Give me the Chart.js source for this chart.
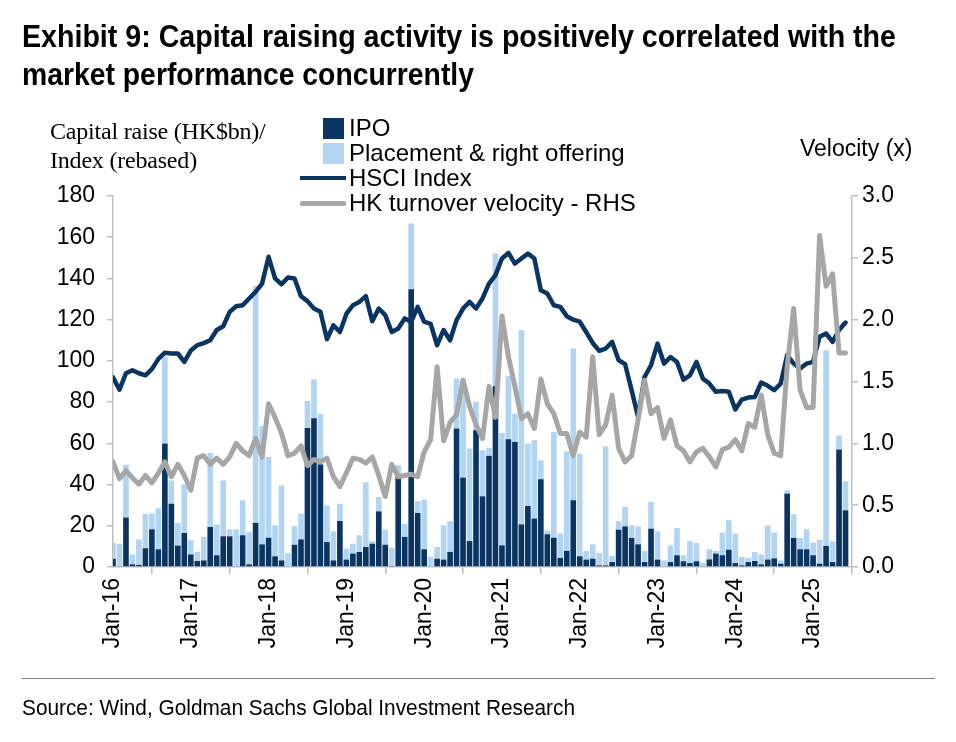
<!DOCTYPE html>
<html><head><meta charset="utf-8">
<script src="https://cdn.jsdelivr.net/npm/chart.js@4.4.1/dist/chart.umd.min.js"></script>
<style>
html,body{margin:0;padding:0;background:#fff;}
#wrap{position:relative;width:956px;height:742px;overflow:hidden;background:#fff;}
#c{position:absolute;left:0;top:0;}
.t{position:absolute;white-space:nowrap;color:#000;transform-origin:0 50%;}
.title{font-family:"Liberation Sans",Arial,sans-serif;font-weight:bold;font-size:31px;line-height:31px;}
.src{font-family:"Liberation Sans",Arial,sans-serif;font-size:22px;line-height:22px;}
.ser{font-family:"Liberation Serif","Times New Roman",serif;font-size:24px;line-height:24px;letter-spacing:-0.2px;}
.sans{font-family:"Liberation Sans",Arial,sans-serif;font-size:23px;line-height:23px;}
.lg{font-family:"Liberation Sans",Arial,sans-serif;font-size:24px;line-height:24px;}
.sw{position:absolute;}
#rule{position:absolute;left:22px;top:678px;width:913px;height:1px;background:#808080;}
</style></head>
<body><div id="wrap">
<canvas id="c" width="956" height="742"></canvas>
<div class="t title fit" data-w="874" style="left:22px;top:21px;">Exhibit 9: Capital raising activity is positively correlated with the</div>
<div class="t title fit" data-w="452" style="left:22px;top:59px;">market performance concurrently</div>
<div class="t ser" style="left:50px;top:119px;">Capital raise (HK$bn)/</div>
<div class="t ser" style="left:50px;top:148px;">Index (rebased)</div>
<div class="t sans" style="left:800px;top:137px;">Velocity (x)</div>
<div class="sw" style="left:323px;top:118px;width:21px;height:21px;background:#0a3563;"></div>
<div class="t lg" style="left:349px;top:116px;">IPO</div>
<div class="sw" style="left:323px;top:143px;width:21px;height:21px;background:#b0d4f1;"></div>
<div class="t lg" style="left:349px;top:141px;">Placement &amp; right offering</div>
<div class="sw" style="left:300px;top:176px;width:46px;height:4px;background:#0a3563;"></div>
<div class="t lg" style="left:349px;top:166px;">HSCI Index</div>
<div class="sw" style="left:300px;top:201px;width:46px;height:5px;background:#a6a6a6;border-radius:2px;"></div>
<div class="t lg" style="left:349px;top:191px;">HK turnover velocity - RHS</div>
<div id="rule"></div>
<div class="t src fit" data-w="553" style="left:22px;top:697px;">Source: Wind, Goldman Sachs Global Investment Research</div>
</div>
<script>
// ---- data ----
const startYear = 2016;
const monthNames = ['Jan','Feb','Mar','Apr','May','Jun','Jul','Aug','Sep','Oct','Nov','Dec'];
const categories = [];
for (let i = 0; i < 114; i++) {
  categories.push(monthNames[i % 12] + '-' + String((startYear + Math.floor(i / 12)) % 100).padStart(2, '0'));
}
const tickLabels = ['Jan-16','Jan-17','Jan-18','Jan-19','Jan-20','Jan-21','Jan-22','Jan-23','Jan-24','Jan-25'];
const leftTicks = [0,20,40,60,80,100,120,140,160,180];
const rightTicks = [0,0.5,1,1.5,2,2.5,3];

const ipo = [
  4.0,0.3,24.0,1.3,1.0,9.1,18.3,8.6,59.9,30.7,10.4,16.5,
  6.1,2.9,3.2,19.4,5.7,14.9,14.9,0.3,15.4,1.3,21.4,11.0,
  14.2,5.2,3.2,0.0,10.8,13.4,67.5,72.2,49.8,12.1,3.2,22.3,
  3.6,6.5,7.3,9.7,11.3,27.0,10.8,0.5,44.0,14.6,134.8,26.2,
  8.6,0.0,4.0,3.6,7.3,67.2,43.4,12.6,66.3,34.3,53.9,87.7,
  10.5,62.0,60.7,20.7,29.6,23.5,42.6,15.9,14.2,4.4,7.8,32.4,
  5.2,3.6,4.0,0.8,0.8,2.4,18.1,19.7,14.1,11.0,2.4,18.6,
  3.6,0.0,2.4,5.7,2.8,1.9,2.8,0.0,3.7,6.5,5.7,8.4,
  1.9,0.8,2.4,2.9,1.3,3.6,4.2,1.6,35.6,14.1,8.6,8.6,
  5.7,1.6,10.2,2.4,57.0,27.5
];
const placement = [
  7.7,11.0,25.7,4.8,12.4,16.6,7.7,19.9,42.1,11.3,11.0,23.6,
  6.9,4.5,11.4,35.9,15.0,27.1,3.4,18.0,17.0,15.7,115.0,57.4,
  39.2,15.0,36.4,6.8,9.0,12.5,13.1,18.9,24.5,17.7,14.1,8.4,
  5.3,4.8,8.1,31.4,1.2,7.0,7.3,8.9,5.4,6.4,31.9,5.8,
  24.1,4.9,5.7,16.6,14.9,24.2,48.0,44.8,13.8,22.3,3.9,64.4,
  54.5,30.7,13.7,94.2,30.3,38.0,9.2,1.9,51.3,11.8,48.3,73.6,
  49.8,4.2,7.0,6.0,57.8,2.9,4.2,9.4,6.1,8.7,5.4,13.0,
  13.7,3.2,8.1,13.2,2.9,10.6,8.9,2.1,4.9,1.3,11.0,14.3,
  14.3,4.1,2.0,4.4,4.8,16.6,12.5,1.6,1.6,11.5,5.5,9.7,
  6.1,11.7,95.0,10.1,6.9,14.1
];
const hsci = [
  92,86,94,95.5,94,93,96,101,104,103.6,103.6,99.5,
  105,107.6,108.6,110,115,116.8,123.8,126.5,127,130.3,133.5,137.5,
  150.5,140,137.2,140.5,140,131.4,129,125.4,123.8,110.5,117.3,114,
  122.8,127,128.6,131.4,119.3,125.4,122.2,114,115.7,120.6,119,126.2,
  119,118,107.6,115,110,119.8,125.4,128.6,125.4,130.3,137.5,141.6,
  149.7,152.4,147.2,149.7,152.1,149.7,134.3,132.7,127,126.2,121.7,120,
  119,114,108.7,104.9,106,109.2,100.3,98.4,85.8,72.8,92.2,97.9,
  108.4,98.7,101.9,99.5,90.9,93,99.5,91.4,89,85,85.4,85,
  76.4,81.2,82.2,82.5,89.5,87.9,85.8,89,102.8,98.7,96.3,98.7,
  99.5,111.7,113.3,109.2,115,118.6
];
const velocity = [
  0.85,0.715,0.78,0.72,0.67,0.74,0.68,0.76,0.85,0.73,0.83,0.74,
  0.62,0.88,0.90,0.83,0.88,0.83,0.89,1.00,0.94,0.90,1.04,0.89,
  1.32,1.21,1.08,0.90,0.92,0.98,0.82,0.87,0.85,0.88,0.73,0.65,
  0.76,0.88,0.87,0.84,0.89,0.74,0.57,0.83,0.73,0.74,0.75,0.73,
  0.93,1.03,1.62,1.02,1.17,1.23,1.51,1.30,1.15,1.04,1.46,1.21,
  2.03,1.70,1.46,1.20,1.24,1.12,1.52,1.32,1.24,1.08,1.08,0.90,
  1.09,1.05,1.70,1.07,1.15,1.39,0.96,0.85,0.90,1.19,1.51,1.24,
  1.29,1.04,1.19,0.98,0.94,0.85,0.93,0.96,0.89,0.81,0.95,0.97,
  1.03,0.94,1.16,1.13,1.39,1.07,0.92,0.90,1.62,2.09,1.43,1.29,
  1.29,2.68,2.27,2.37,1.73,1.73
];

// ---- styles ----
const NAVY = '#0a3563', LIGHT = '#b0d4f1', GREY = '#a6a6a6', AXIS = '#bfbfbf';
const tickFont = {family: '"Liberation Sans", Arial, sans-serif', size: 23};
const pts = arr => arr.map((v, i) => ({x: i, y: v}));

new Chart(document.getElementById('c'), {
  type: 'bar',
  data: {
    datasets: [
      {type:'line', label:'HK turnover velocity - RHS', data: pts(velocity), yAxisID:'y1',
       borderColor: GREY, borderWidth: 5, pointRadius: 0, tension: 0,
       borderJoinStyle:'round', borderCapStyle:'round', order: 0},
      {type:'line', label:'HSCI Index', data: pts(hsci), yAxisID:'y', stack:'hsci',
       borderColor: NAVY, borderWidth: 4.5, pointRadius: 0, tension: 0,
       borderJoinStyle:'round', borderCapStyle:'round', order: 1},
      {label:'IPO', data: pts(ipo), yAxisID:'y', stack:'cap', backgroundColor: NAVY,
       categoryPercentage: 1, barPercentage: 0.87, order: 2},
      {label:'Placement & right offering', data: pts(placement), yAxisID:'y', stack:'cap', backgroundColor: LIGHT,
       categoryPercentage: 1, barPercentage: 0.87, order: 3}
    ]
  },
  options: {
    responsive: false,
    animation: false,
    layout: {padding: {top: 196, left: 0, right: 0, bottom: 0}},
    plugins: {legend: {display: false}, tooltip: {enabled: false}, title: {display: false}},
    scales: {
      x: {
        type: 'linear', min: 0, max: 114, stacked: true, offset: false,
        afterBuildTicks: s => { s.ticks = tickLabels.map(l => ({value: categories.indexOf(l)})); },
        afterFit: s => { s.height = 175; },
        ticks: {autoSkip: false, minRotation: 90, maxRotation: 90, padding: 4, color: '#000', font: tickFont,
                callback: v => categories[v]},
        grid: {drawOnChartArea: false, drawTicks: true, tickLength: 7, color: AXIS, lineWidth: 1.5},
        border: {display: true, color: AXIS, width: 1.5}
      },
      y: {
        position: 'left', min: 0, max: 180, stacked: true,
        afterBuildTicks: s => { s.ticks = leftTicks.map(v => ({value: v})); },
        afterFit: s => { s.width = 113; },
        ticks: {padding: 12, color: '#000', font: tickFont},
        grid: {drawOnChartArea: false, drawTicks: true, tickLength: 6, color: AXIS, lineWidth: 1.5},
        border: {display: true, color: AXIS, width: 1.5}
      },
      y1: {
        position: 'right', min: 0, max: 3,
        afterBuildTicks: s => { s.ticks = rightTicks.map(v => ({value: v})); },
        afterFit: s => { s.width = 104; },
        ticks: {padding: 4, color: '#000', font: tickFont, callback: v => Number(v).toFixed(1)},
        grid: {drawOnChartArea: false, drawTicks: true, tickLength: 6, color: AXIS, lineWidth: 1.5},
        border: {display: true, color: AXIS, width: 1.5}
      }
    }
  }
});

// fit narrow text lines to their measured widths in the reference
document.querySelectorAll('.fit').forEach(el => {
  const w = el.getBoundingClientRect().width;
  const target = +el.dataset.w;
  if (w > 0) el.style.transform = 'scaleX(' + (target / w).toFixed(4) + ')';
});
</script>
</body></html>
